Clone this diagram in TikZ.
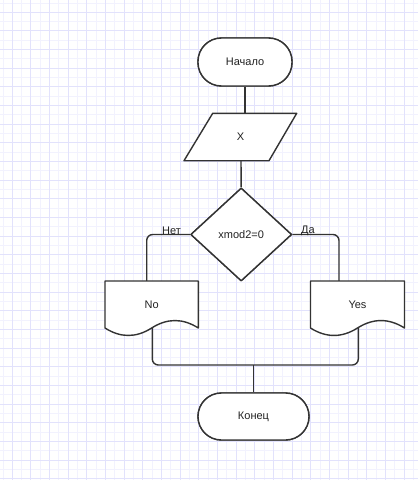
\documentclass[tikz,border=0pt]{standalone}
\usepackage{fontspec}
\setmainfont{Liberation Sans}
\usetikzlibrary{shapes.geometric,calc}
\definecolor{gridA}{RGB}{226,226,252}
\definecolor{gridB}{RGB}{242,242,254}
\definecolor{ink}{RGB}{51,51,51}
\definecolor{txt}{RGB}{34,34,34}
\newcommand\flowdoc[2]{%
  \draw[shapeline] (#1,281) -- ({#1+#2},281) -- ({#1+#2},328)
    .. controls ({#1+#2*5/6},318.07) and ({#1+#2*2/3},318.07) .. ({#1+#2/2},328)
    .. controls ({#1+#2/3},337.93) and ({#1+#2/6},337.93) .. (#1,328) -- cycle;}
\begin{document}
\begin{tikzpicture}[x=1pt,y=-1pt,
  shapeline/.style={draw=ink,line width=1.4pt,fill=white,line join=round},
  txtfont/.style={font=\fontsize{11}{13}\selectfont,text=txt},
  term/.style={shapeline,txtfont,rectangle,rounded corners=23.5pt,inner sep=0pt},
  decbox/.style={shapeline,txtfont,diamond,inner sep=0pt},
  lbl/.style={txtfont,inner sep=0pt},
  conn/.style={draw=ink,line width=1.4pt,rounded corners=6pt}]
\useasboundingbox (0,0) rectangle (418,480);
\fill[white] (0,0) rectangle (418,480);
% grid
\foreach \i in {0,...,44}{\ifodd\i\else\draw[gridB,line width=1pt] ({3+9.327*\i},0) -- ({3+9.327*\i},480);\fi}
\foreach \i in {0,...,51}{\ifodd\i\else\draw[gridB,line width=1pt] (0,{3+9.327*\i}) -- (418,{3+9.327*\i});\fi}
\foreach \i in {0,...,44}{\ifodd\i\draw[gridA,line width=1pt] ({3+9.327*\i},0) -- ({3+9.327*\i},480);\fi}
\foreach \i in {0,...,51}{\ifodd\i\draw[gridA,line width=1pt] (0,{3+9.327*\i}) -- (418,{3+9.327*\i});\fi}
% coordinates
\coordinate (inptop) at (245,113.3);
\coordinate (inpbot) at (241,160.7);
\coordinate (notop) at (146.7,281);
\coordinate (yestop) at (339,281);
\coordinate (nobot) at (152.3,328);
\coordinate (yesbot) at (358.3,328);
\coordinate (join) at (253.5,365);
% nodes (shapes)
\node[term,minimum width=94pt,minimum height=48pt] (start) at (245,62) {Начало};
\node[term,minimum width=111pt,minimum height=47pt] (end) at (253.5,416.5) {Конец};
\node[decbox,minimum width=101pt,minimum height=93pt] (dec) at (241.2,234.5) {};
% connectors
\draw[conn] (start.south) -- (inptop);
\draw[conn] (inpbot) -- (dec.north);
\draw[conn] (dec.west) -| (notop);
\draw[conn] (dec.east) -| (yestop);
\draw[conn] (nobot) -- (152.3,365) -- (358.3,365) -- (yesbot);
\draw[conn] (join) -- (end.north);
% redraw shapes on top
\node[term,minimum width=94pt,minimum height=48pt] at (start) {Начало};
\node[term,minimum width=111pt,minimum height=47pt] at (end) {Конец};
\node[decbox,minimum width=101pt,minimum height=93pt] at (dec) {xmod2=0};
\draw[shapeline] (212.7,113.3) -- (296.7,113.3) -- (269,160.7) -- (184,160.7) -- cycle;
\node[lbl] (inp) at (240.6,137) {X};
\flowdoc{105}{93.3}
\node[lbl] (no) at (151.7,304.3) {No};
\flowdoc{310.5}{94}
\node[lbl] (yes) at (357.5,304.3) {Yes};
% branch labels
\node[lbl] (net) at (171.5,231) {Нет};
\node[lbl] (da) at (308,231) {Да};
\end{tikzpicture}
\end{document}
